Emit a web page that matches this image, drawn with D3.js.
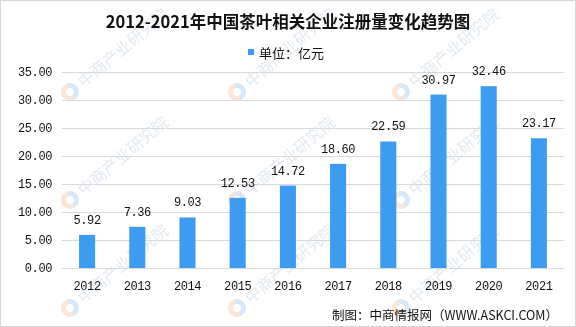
<!DOCTYPE html>
<html><head><meta charset="utf-8">
<script src="https://cdn.jsdelivr.net/npm/d3@7"></script>
<style>body{margin:0;background:#fff;}svg{display:block;}</style>
</head><body>
<svg id="c" width="576" height="327"></svg>
<script>
const years = ["2012","2013","2014","2015","2016","2017","2018","2019","2020","2021"];
const values = [5.92, 7.36, 9.03, 12.53, 14.72, 18.60, 22.59, 30.97, 32.46, 23.17];
const yTicks = [0, 5, 10, 15, 20, 25, 30, 35];
const title = "2012-2021年中国茶叶相关企业注册量变化趋势图";
const legendLabel = "单位：亿元";
const source = "制图：中商情报网（WWW.ASKCI.COM）";
const watermark = "中商产业研究院";

const W = 576, H = 327;
const margin = {left: 62, right: 12, top: 72, bottom: 59};
const svg = d3.select("#c");
const monoFont = "'Liberation Mono', 'DejaVu Sans Mono', monospace";
const cjkFont = "'Noto Sans CJK SC', sans-serif";
const barColor = "#3d9cf0";

svg.append("rect").attr("x",0.5).attr("y",0.5).attr("width",W-1).attr("height",H-1)
  .attr("fill","#fff").attr("stroke","#d6d6d6");

// watermarks (behind everything)
const wm = svg.append("g").attr("opacity", 0.3).style("pointer-events", "none");
const wx = [70, 237, 401], wy = [92, 200, 308];
wy.forEach(py => wx.forEach(px => {
  const g = wm.append("g").attr("transform", `translate(${px},${py}) rotate(-40)`);
  g.append("path").attr("d", d3.arc()({innerRadius: 4, outerRadius: 9, startAngle: Math.PI*0.1, endAngle: Math.PI*1.1})).attr("fill", "#7fb3e0");
  g.append("path").attr("d", d3.arc()({innerRadius: 4, outerRadius: 9, startAngle: Math.PI*1.1, endAngle: Math.PI*2.1})).attr("fill", "#f0a878");
  g.append("text").attr("x", 13).attr("y", 6).attr("font-family", cjkFont).attr("font-size", 16)
    .attr("fill", "#9fb6cc").text(watermark);
}));

const x = d3.scaleBand().domain(years).range([margin.left, W - margin.right]).paddingInner(0.68).paddingOuter(0.34);
const y = d3.scaleLinear().domain([0, 35]).range([H - margin.bottom, margin.top]);

// gridlines + y labels via axis
const yAxis = svg.append("g").attr("transform", `translate(${margin.left},0)`)
  .call(d3.axisLeft(y).tickValues(yTicks).tickFormat(d3.format(".2f"))
    .tickSize(-(W - margin.right - margin.left)).tickPadding(10));
yAxis.select(".domain").remove();
yAxis.selectAll(".tick line").attr("stroke", "#d9d9d9");
yAxis.selectAll(".tick text").attr("font-family", monoFont).attr("font-size", 12).attr("letter-spacing", -0.4).attr("fill", "#111");

// bars
svg.append("g").selectAll("rect").data(values).join("rect")
  .attr("x", (d,i) => x(years[i]))
  .attr("width", x.bandwidth())
  .attr("y", d => y(d))
  .attr("height", d => y(0) - y(d))
  .attr("fill", barColor);

// value labels
svg.append("g").selectAll("text").data(values).join("text")
  .attr("x", (d,i) => x(years[i]) + x.bandwidth()/2)
  .attr("y", d => y(d) - 11)
  .attr("text-anchor", "middle")
  .attr("font-family", monoFont).attr("font-size", 12).attr("letter-spacing", -0.4).attr("fill", "#111")
  .text(d => d.toFixed(2));

// x axis labels
const xAxis = svg.append("g").attr("transform", `translate(0,${y(0)})`)
  .call(d3.axisBottom(x).tickSize(0).tickPadding(13));
xAxis.select(".domain").remove();
xAxis.selectAll(".tick text").attr("font-family", monoFont).attr("font-size", 12).attr("letter-spacing", -0.4).attr("fill", "#111");

// title
svg.append("text").attr("x", 288).attr("y", 28).attr("text-anchor", "middle")
  .attr("font-family", cjkFont).attr("font-weight", "bold").attr("font-size", 16.5).attr("fill", "#111")
  .text(title);

// legend
svg.append("rect").attr("x", 248).attr("y", 49).attr("width", 6).attr("height", 6).attr("fill", barColor);
svg.append("text").attr("x", 259).attr("y", 57.5).attr("font-family", cjkFont).attr("font-size", 13).attr("fill", "#111")
  .text(legendLabel);

// source
svg.append("text").attr("x", 558).attr("y", 320).attr("text-anchor", "end")
  .attr("font-family", cjkFont).attr("font-size", 12.5).attr("fill", "#111")
  .text(source);
</script>
</body></html>
